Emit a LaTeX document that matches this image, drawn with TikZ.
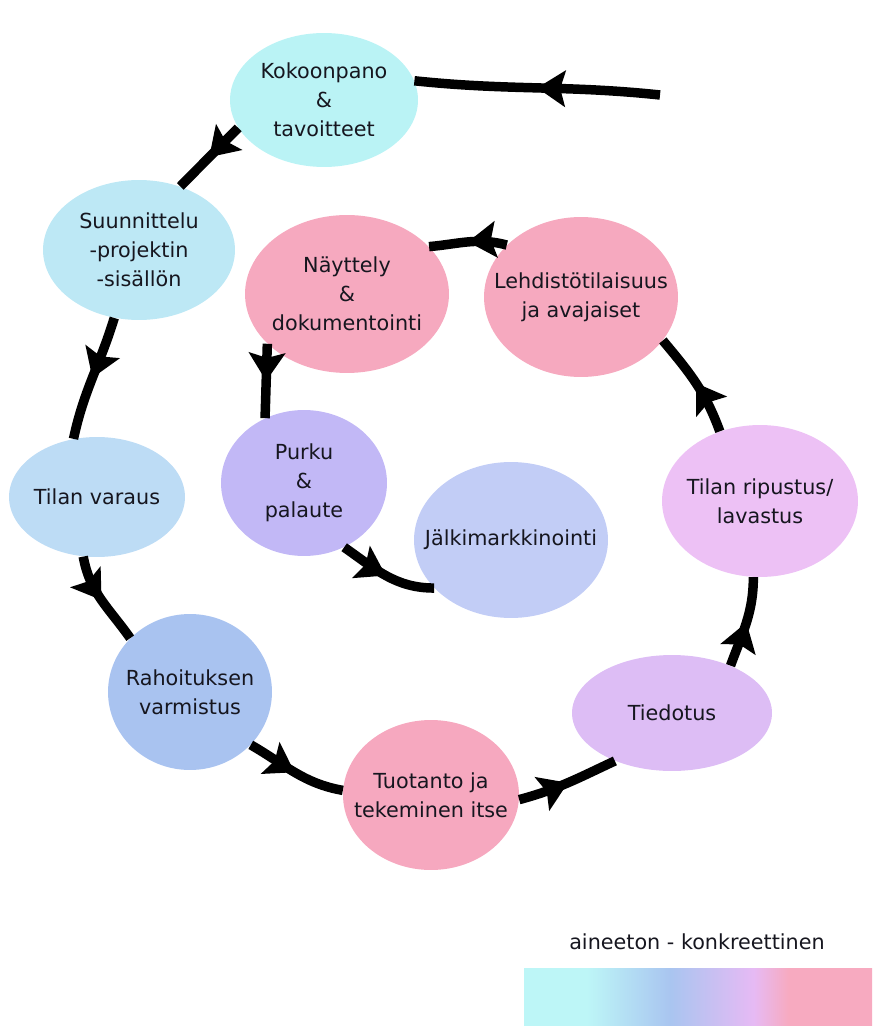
\documentclass[tikz,border=0pt]{standalone}
\usepackage{fontspec}
\setmainfont{DejaVu Sans}
\usepackage{xcolor}
\usetikzlibrary{shapes.geometric, arrows.meta, decorations.markings}

\definecolor{inkCol}{HTML}{16161F}
\definecolor{kokoCol}{HTML}{BAF3F5}
\definecolor{suunCol}{HTML}{BDE8F5}
\definecolor{varausCol}{HTML}{BDDCF5}
\definecolor{rahoiCol}{HTML}{A9C3F0}
\definecolor{tuotCol}{HTML}{F6A8BF}
\definecolor{tiedCol}{HTML}{DDBDF5}
\definecolor{ripusCol}{HTML}{EDC1F5}
\definecolor{lehdCol}{HTML}{F6A9BF}
\definecolor{naytCol}{HTML}{F6A9BF}
\definecolor{purkuCol}{HTML}{C2B8F6}
\definecolor{jalkiCol}{HTML}{C2CDF6}
\definecolor{barCyan}{HTML}{BDF6F7}
\definecolor{barBlue}{HTML}{A9C5F0}
\definecolor{barLilac}{HTML}{E6BAF4}
\definecolor{barPink}{HTML}{F7AAC0}

\pgfdeclarehorizontalshading{spectrum}{100bp}{color(0bp)=(barCyan); color(25bp)=(barCyan); color(34bp)=(barCyan); color(46bp)=(barBlue); color(58bp)=(barLilac); color(63bp)=(barPink); color(75bp)=(barPink); color(100bp)=(barPink)}

\begin{document}
\begin{tikzpicture}[
    x=0.02cm, y=0.02cm,
    stage/.style n args={3}{ellipse, fill=#1, minimum width=#2, minimum height=#3, inner sep=0pt},
    caption/.style={align=center, text=inkCol, font=\fontsize{11.8pt}{16.4pt}\selectfont},
    flow/.style={line width=5.4pt, postaction={decorate},
        decoration={markings, mark=at position 0.5 with {\arrow{Stealth[length=0.56cm, width=0.72cm, inset=0.1cm]}}}}
]
    \useasboundingbox (0,0) rectangle (872,-1026);

    % outer ring
    \node[stage={kokoCol}{3.76cm}{2.68cm}, label={[caption]center:Kokoonpano\\\&\\tavoitteet}] (koko) at (324,-100) {};
    \node[stage={suunCol}{3.84cm}{2.80cm}, label={[caption]center:Suunnittelu\\-projektin\\-sisällön}] (suun) at (139,-250) {};
    \node[stage={varausCol}{3.52cm}{2.40cm}, label={[caption]center:Tilan varaus}] (varaus) at (97,-497) {};
    \node[stage={rahoiCol}{3.28cm}{3.12cm}, label={[caption]center:Rahoituksen\\varmistus}] (rahoi) at (190,-692) {};
    \node[stage={tuotCol}{3.52cm}{3.00cm}, label={[caption]center:Tuotanto ja\\tekeminen itse}] (tuot) at (431,-795) {};
    \node[stage={tiedCol}{4.00cm}{2.32cm}, label={[caption]center:Tiedotus}] (tied) at (672,-713) {};
    \node[stage={ripusCol}{3.92cm}{3.04cm}, label={[caption]center:Tilan ripustus/\\lavastus}] (ripus) at (760,-501) {};
    \node[stage={lehdCol}{3.88cm}{3.20cm}, label={[caption]center:Lehdistötilaisuus\\ja avajaiset}] (lehd) at (581,-297) {};
    % inner ring
    \node[stage={naytCol}{4.08cm}{3.16cm}, label={[caption]center:Näyttely\\\&\\dokumentointi}] (nayt) at (347,-294) {};
    \node[stage={purkuCol}{3.32cm}{2.92cm}, label={[caption]center:Purku\\\&\\palaute}] (purku) at (304,-483) {};
    \node[stage={jalkiCol}{3.88cm}{3.12cm}, label={[caption]center:Jälkimarkkinointi}] (jalki) at (511,-540) {};

    \coordinate (tail) at (660,-95);

    \draw[flow] (tail) to[out=174, in=-6] (koko.12);
    \draw[flow] (koko.198) -- (suun.57);
    \draw[flow] (suun.250) to[out=253, in=78] (varaus.112);
    \draw[flow] (varaus.257) to[out=280, in=125] (rahoi.138);
    \draw[flow] (rahoi.319) to[out=-30, in=170] (tuot.177);
    \draw[flow] (tuot.357) to[out=15, in=205] (tied.220);
    \draw[flow] (tied.39) to[out=70, in=270] (ripus.265);
    \draw[flow] (ripus.120) to[out=110, in=-50] (lehd.-28);
    \draw[flow] (lehd.145) to[out=165, in=5] (nayt.30);
    \draw[flow] (nayt.212) -- (purku.121);
    \draw[flow] (purku.302) to[out=-35, in=180] (jalki.212);

    % scale
    \node[caption] (scaleLabel) at (697,-942) {aineeton - konkreettinen};
    \shade[shading=spectrum] (524,-968) rectangle (872,-1026);
\end{tikzpicture}
\end{document}
